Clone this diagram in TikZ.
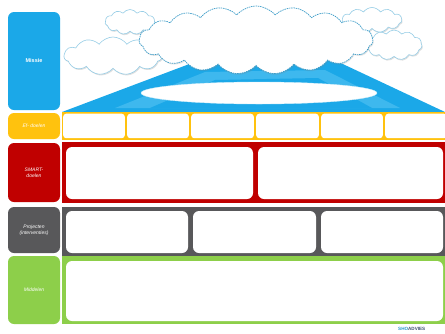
\documentclass[tikz,border=0pt]{standalone}
\usepackage{fontspec}
\setmainfont{Liberation Sans}
\usetikzlibrary{shapes.symbols,shapes.geometric,shadows}
\definecolor{mblue}{RGB}{27,168,232}
\definecolor{mbluelight}{RGB}{62,184,238}
\definecolor{myellow}{RGB}{255,194,14}
\definecolor{mred}{RGB}{192,0,0}
\definecolor{mgray}{RGB}{88,88,90}
\definecolor{mgreen}{RGB}{141,207,74}
\definecolor{cloudline}{RGB}{150,205,230}
\definecolor{clouddash}{RGB}{60,156,200}
\definecolor{logoblue}{RGB}{40,150,205}
\definecolor{logodark}{RGB}{60,78,110}
\begin{document}
\begin{tikzpicture}[x=1pt,y=-1pt,
  box/.style={inner sep=0pt, outer sep=0pt, anchor=north west},
  label/.style={box, rounded corners=6pt, text=white, align=center,
    font=\fontsize{5}{6}\selectfont\itshape},
  cell/.style={box, fill=white, rounded corners=3pt},
  bigcell/.style={box, fill=white, rounded corners=6pt},
  bgcloud/.style={cloud, cloud ignores aspect, cloud puffs=11, cloud puff arc=110,
    fill=white, draw=cloudline, line width=0.6pt,
    drop shadow={shadow xshift=0.8pt, shadow yshift=-1.2pt, opacity=0.25}},
]
\useasboundingbox (0,0) rectangle (445,333);

% left labels
\node[label, fill=mblue, minimum width=52pt, minimum height=98pt,
  font=\fontsize{5.5}{6}\selectfont\bfseries] (missie) at (8,12) {Missie};
\node[label, fill=myellow, minimum width=52pt, minimum height=26pt] (ef) at (8,113) {Ef- doelen};
\node[label, fill=mred, minimum width=52pt, minimum height=59pt] (smart) at (8,143) {SMART-\\doelen};
\node[label, fill=mgray, minimum width=52pt, minimum height=46pt] (proj) at (8,207) {Projecten\\(interventies)};
\node[label, fill=mgreen, minimum width=52pt, minimum height=68pt] (mid) at (8,256) {Middelen};

% trapezoid
\fill[mblue] (62,112) -- (200,60) -- (330,58) -- (445,112) -- cycle;
\fill[mbluelight] (115,108) -- (205,72) -- (325,70) -- (400,108) -- cycle;
\fill[mblue] (150,108) -- (215,80) -- (318,78) -- (372,108) -- cycle;
\node[ellipse, fill=white, draw=white!80!mblue, line width=0.4pt, minimum width=236pt,
  minimum height=22pt, inner sep=0pt] (lens) at (259,93) {};

% background clouds
\node[bgcloud, minimum width=98pt, minimum height=38pt] (cl1) at (113,56) {};
\node[bgcloud, minimum width=50pt, minimum height=25pt] (cl2) at (130,22) {};
\node[bgcloud, minimum width=60pt, minimum height=25pt] (cl3) at (372,20) {};
\node[bgcloud, minimum width=56pt, minimum height=30pt] (cl4) at (394,45) {};
% main cloud
\node[cloud, cloud ignores aspect, cloud puffs=19, cloud puff arc=100,
  fill=white, draw=clouddash, dashed, dash pattern=on 1.5pt off 0.8pt, line width=0.7pt,
  minimum width=234pt, minimum height=68pt,
  drop shadow={shadow xshift=0.8pt, shadow yshift=-1.2pt, opacity=0.2}] (main) at (256,40) {};

% yellow row
\node[box, fill=myellow, minimum width=383pt, minimum height=28pt] (yrow) at (62,112) {};
\foreach \a/\b [count=\i] in {62/126,126/190,190/255,255/320,320/384,384/448}{
  \node[cell, minimum width=\b-\a-2.4, minimum height=24.5pt] (y\i) at (\a+1.2,113.7) {};
}

% red row
\node[box, fill=mred, minimum width=383pt, minimum height=61pt] (rrow) at (62,142) {};
\node[bigcell, minimum width=187pt, minimum height=52pt] (r1) at (66,147) {};
\node[bigcell, minimum width=185pt, minimum height=52pt] (r2) at (258,147) {};

% gray row
\node[box, fill=mgray, minimum width=383pt, minimum height=49pt] (grow) at (62,207) {};
\node[bigcell, minimum width=122pt, minimum height=42pt] (g1) at (66,211) {};
\node[bigcell, minimum width=123pt, minimum height=42pt] (g2) at (193,211) {};
\node[bigcell, minimum width=122pt, minimum height=42pt] (g3) at (321,211) {};

% green row
\node[box, fill=mgreen, minimum width=383pt, minimum height=68pt] (gnrow) at (62,256) {};
\node[bigcell, minimum width=377pt, minimum height=60pt] (gn1) at (66,261) {};

% logo
\node[anchor=west, inner sep=0pt, font=\fontsize{4.6}{5}\selectfont\bfseries] (logo) at (398,328.5)
  {\textcolor{logoblue}{SHO}\textcolor{logodark}{ADVIES}};
\end{tikzpicture}
\end{document}
